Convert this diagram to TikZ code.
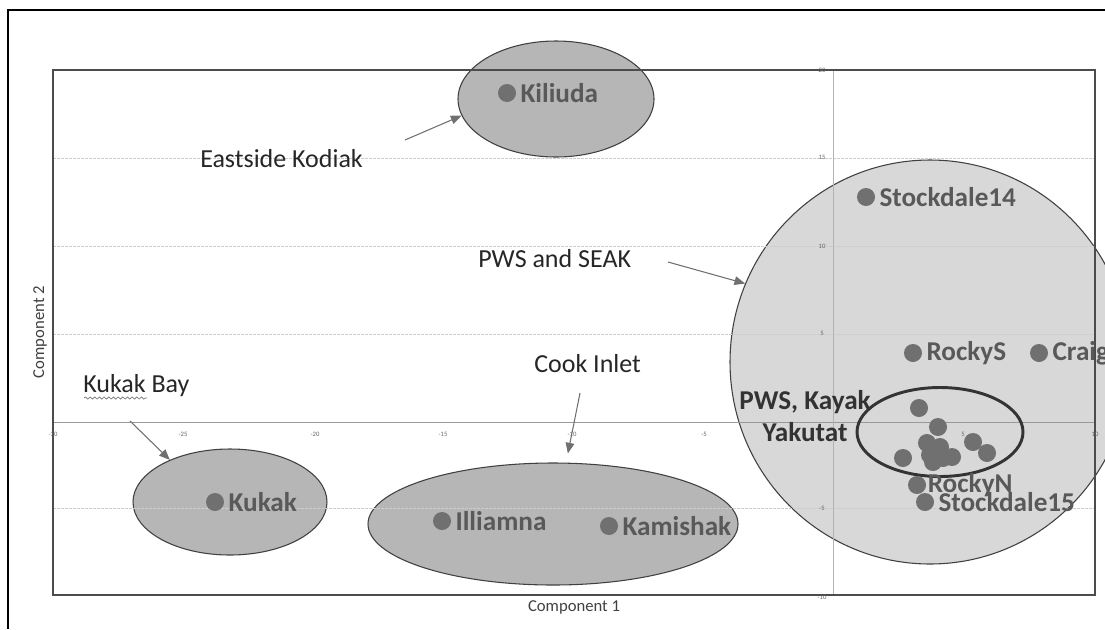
\documentclass[tikz,border=0pt]{standalone}
\usepackage{fontspec}
\setmainfont{Carlito}
\usepackage{tikz}
\usetikzlibrary{positioning,shapes.geometric,arrows.meta,decorations.pathmorphing}

\definecolor{grpfill}{HTML}{B6B6B6}
\definecolor{bigfill}{HTML}{D8D8D8}
\definecolor{dotgray}{HTML}{707070}
\definecolor{lblgray}{HTML}{595959}
\definecolor{gridgray}{HTML}{CCCCCC}
\definecolor{arrgray}{HTML}{707070}

\tikzset{
  grp/.style={ellipse, draw=black!75, line width=0.8pt, fill=grpfill, inner sep=0pt},
  dot/.style={circle, fill=dotgray, minimum size=13.5pt, inner sep=0pt},
  ptlbl/.style={font=\fontsize{20.4}{24}\selectfont\bfseries, text=lblgray, inner sep=0pt},
  grplbl/.style={font=\fontsize{19.5}{23}\selectfont, text=black!85, inner sep=0pt},
  ptr/.style={draw=arrgray, line width=0.8pt, -{Triangle[length=8pt,width=6.5pt]}},
  tick/.style={font=\fontsize{5}{6}\selectfont, text=black!60, inner sep=0pt},
  axtitle/.style={font=\fontsize{12.5}{14}\selectfont, text=black!75, inner sep=0pt}
}

\begin{document}
\begin{tikzpicture}[x=0.75pt,y=-0.75pt]
  \useasboundingbox (0,0) rectangle (1105,629);
  % group ellipses
  \node[grp, minimum width=147pt, minimum height=87pt] (kodiakGrp) at (556,99) {};
  \node[grp, minimum width=145.5pt, minimum height=79.5pt] (kukakGrp) at (230,502) {};
  \node[grp, minimum width=277.5pt, minimum height=91.5pt] (cookGrp) at (553,524) {};
  \node[grp, fill=bigfill, minimum width=300pt, minimum height=303pt] (pwsGrp) at (930,362) {};

  % grid and axes
  \foreach \gy in {158,246,334,508}
    \draw[gridgray, line width=0.4pt, dash pattern=on 2pt off 1pt] (53,\gy) -- (1095,\gy);
  \draw[black!40, line width=0.5pt] (53,422) -- (1095,422);
  \draw[black!30, line width=0.5pt] (833,70) -- (833,595);
  \draw[black!70, line width=0.8pt] (53,70) rectangle (1095,595);
  \foreach \tx/\tl [count=\i] in {53/-30,183/-25,315/-20,443/-15,572/-10,704/-5,963/5,1095/10}
    \node[tick] (xt\i) at (\tx,434) {\tl};
  \foreach \ty/\tl [count=\i] in {70/20,157/15,246/10,333/5,508/-5,597/-10}
    \node[tick] (yt\i) at (822,\ty) {\tl};
  \node[axtitle] (xTitle) at (574,607) {Component 1};
  \node[axtitle, rotate=90] (yTitle) at (40,332) {Component 2};

  % outer frame
  \draw[black, line width=1.5pt] (8,629) -- (8,10) -- (1105,10);

  % inner group
  \node[ellipse, draw=black!80, line width=2.2pt, minimum width=124.5pt, minimum height=66.75pt] (yakGrp) at (940,432) {};

  % points
  \node[dot] (kiliuda) at (507,93) {};
  \node[dot] (stock14) at (866,197) {};
  \node[dot] (rockyS) at (913,353) {};
  \node[dot] (craig) at (1039,353) {};
  \node[dot] (kukak) at (215,502) {};
  \node[dot] (illiamna) at (442,521) {};
  \node[dot] (kamishak) at (609,526) {};
  \foreach \px/\py [count=\i] in {919/408,938/427,927/443,940/447,930/455,943/458,952/457,903/458,973/442,987/453,933/462}
    \node[dot] (c\i) at (\px,\py) {};
  \node[dot] (rockyN) at (917,485) {};
  \node[dot] (stock15) at (925,502) {};

  \node[ptlbl, right=3pt of kiliuda] (kiliudaLbl) {Kiliuda};
  \node[ptlbl, right=3pt of stock14] (stock14Lbl) {Stockdale14};
  \node[ptlbl, right=3pt of rockyS] (rockySLbl) {RockyS};
  \node[ptlbl, right=3pt of craig] (craigLbl) {Craig};
  \node[ptlbl, right=3pt of kukak] (kukakPtLbl) {Kukak};
  \node[ptlbl, right=3pt of illiamna] (illiamnaLbl) {Illiamna};
  \node[ptlbl, right=3pt of kamishak] (kamishakLbl) {Kamishak};
  \node[ptlbl, right=1pt of rockyN] (rockyNLbl) {RockyN};
  \node[ptlbl, right=3pt of stock15] (stock15Lbl) {Stockdale15};

  % group labels
  \node[ptlbl, text=black!80, align=center, font=\fontsize{20.4}{24}\selectfont\bfseries] (yakLbl) at (805,416) {PWS, Kayak\\Yakutat};
  \node[grplbl, anchor=base west] (kodiakLbl) at (200,167) {Eastside Kodiak};
  \node[grplbl, anchor=base west] (pwsLbl) at (478,267) {PWS and SEAK};
  \node[grplbl, anchor=base west] (cookLbl) at (534,372) {Cook Inlet};
  \node[grplbl, anchor=base west] (kukakLbl) at (83,392) {Kukak Bay};
  \draw[black!55, line width=0.5pt, decorate, decoration={snake, amplitude=0.8pt, segment length=3.5pt}] (84,398) -- (147,398);

  % pointers
  \coordinate (kodiakFrom) at (405,140);
  \coordinate (pwsFrom) at (668,262);
  \coordinate (kukakFrom) at (130,421);
  \coordinate (cookFrom) at (580,393);
  \draw[ptr] (kodiakFrom) -- (kodiakGrp.190);
  \draw[ptr] (pwsFrom) -- (pwsGrp.157);
  \draw[ptr] (kukakFrom) -- (kukakGrp.145);
  \draw[ptr, shorten >=7pt] (cookFrom) -- (cookGrp.78);
\end{tikzpicture}
\end{document}
